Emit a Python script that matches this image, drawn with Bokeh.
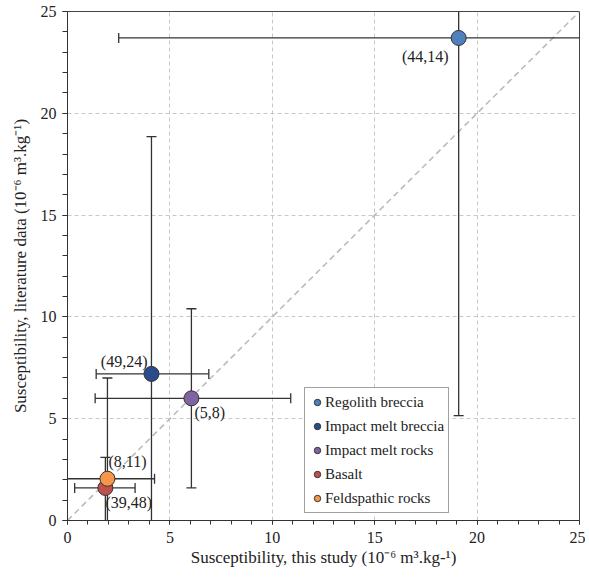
import math
from bokeh.plotting import figure
from bokeh.models import (ColumnDataSource, Range1d, SingleIntervalTicker, Legend, LegendItem)
from bokeh.core.properties import value
from bokeh.embed import file_html
from bokeh.resources import INLINE

categories = ["Regolith breccia", "Impact melt breccia", "Impact melt rocks", "Basalt", "Feldspathic rocks"]
colors = ["#4F81BD", "#2B4C8C", "#8064A2", "#C0504D", "#F79646"]
x_this = [19.1, 4.1, 6.05, 1.85, 1.95]
y_lit = [23.7, 7.2, 6.0, 1.6, 2.05]
x_lo = [2.5, 1.4, 1.35, 0.35, -0.5]
x_hi = [28.0, 6.9, 10.9, 3.3, 4.25]
y_lo = [5.15, -1.0, 1.6, -1.0, -1.0]
y_hi = [28.0, 18.85, 10.4, 3.1, 7.0]
labels = ["(44,14)", "(49,24)", "(5,8)", "(39,48)", "(8,11)"]
lab_dx = [-10, -4, 3, 0, 1]
lab_dy = [19, -12, 14, 15, -17]
lab_align = ["right", "right", "left", "left", "left"]

FONT = "'Liberation Serif', 'Times New Roman', serif"

p = figure(width=585, height=577, output_backend="svg", toolbar_location=None,
           x_range=Range1d(0, 25), y_range=Range1d(0, 25),
           min_border_left=67, min_border_right=6, min_border_top=11, min_border_bottom=57)
p.frame_width = 512
p.frame_height = 509
p.outline_line_color = "#444444"
p.outline_line_width = 1
p.background_fill_color = "white"
p.border_fill_color = "white"

for ax in (p.xaxis[0], p.yaxis[0]):
    ax.ticker = SingleIntervalTicker(interval=5, num_minor_ticks=5)
    ax.axis_line_color = "#333333"
    ax.major_tick_line_color = "#333333"
    ax.minor_tick_line_color = "#333333"
    ax.major_label_text_font = FONT
    ax.major_label_text_font_size = "16px"
    ax.major_label_text_color = "#222222"
    ax.axis_label_text_font = FONT
    ax.axis_label_text_font_size = "17px"
    ax.axis_label_text_font_style = "normal"
    ax.axis_label_text_color = "#222222"

p.xaxis.major_tick_in = 0
p.xaxis.major_tick_out = 4
p.xaxis.minor_tick_in = 0
p.xaxis.minor_tick_out = 4
p.yaxis.major_tick_in = 0
p.yaxis.major_tick_out = 5
p.yaxis.minor_tick_in = 0
p.yaxis.minor_tick_out = 5
p.xaxis.major_label_standoff = 7
p.yaxis.major_label_standoff = 6
p.xaxis.axis_label_standoff = 2
p.yaxis.axis_label_standoff = 8

p.xaxis.axis_label = "Susceptibility, this study (10\u207b\u2076 m\u00b3.kg-\u00b9)"
p.yaxis.axis_label = "Susceptibility, literature data (10\u207b\u2076 m\u00b3.kg\u207b\u00b9)"

p.grid.grid_line_color = "#c8c8c8"
p.grid.grid_line_dash = "4 3"
p.grid.grid_line_width = 1

# 1:1 line
p.line(x=[0, 25], y=[0, 25], line_color="#bbbbbb", line_dash="6 4", line_width=1.6)

src = ColumnDataSource(dict(cat=categories, color=colors, x=x_this, y=y_lit,
                            xlo=x_lo, xhi=x_hi, ylo=y_lo, yhi=y_hi))

ebc = "#333333"
p.segment(x0="xlo", y0="y", x1="xhi", y1="y", source=src, line_color=ebc, line_width=1.3)
p.segment(x0="x", y0="ylo", x1="x", y1="yhi", source=src, line_color=ebc, line_width=1.3)
# caps
p.scatter(x="xlo", y="y", source=src, marker="dash", angle=math.pi / 2, size=10, line_color=ebc, line_width=1.3)
p.scatter(x="xhi", y="y", source=src, marker="dash", angle=math.pi / 2, size=10, line_color=ebc, line_width=1.3)
p.scatter(x="x", y="ylo", source=src, marker="dash", size=10, line_color=ebc, line_width=1.3)
p.scatter(x="x", y="yhi", source=src, marker="dash", size=10, line_color=ebc, line_width=1.3)

items = []
for i, c in enumerate(categories):
    r = p.scatter(x=[x_this[i]], y=[y_lit[i]], size=15, fill_color=colors[i],
                  line_color="#333333", line_width=1)
    items.append(LegendItem(label=c, renderers=[r]))

for i in range(len(labels)):
    p.text(x=[x_this[i]], y=[y_lit[i]], text=[labels[i]], x_offset=lab_dx[i], y_offset=lab_dy[i],
           text_align=lab_align[i], text_baseline="middle", text_font=value(FONT),
           text_font_size="16px", text_color="#222222")

legend = Legend(items=items, location=(237, 7))
legend.label_text_font = FONT
legend.label_text_font_size = "15px"
legend.label_text_color = "#222222"
legend.glyph_width = 16
legend.glyph_height = 20
legend.label_standoff = 0
legend.spacing = 4
legend.padding = 4
legend.margin = 0
legend.label_height = 20
legend.border_line_color = "#444444"
legend.border_line_width = 1
legend.background_fill_alpha = 1
p.add_layout(legend, "center")

open("out.html", "w").write(file_html(p, INLINE))
